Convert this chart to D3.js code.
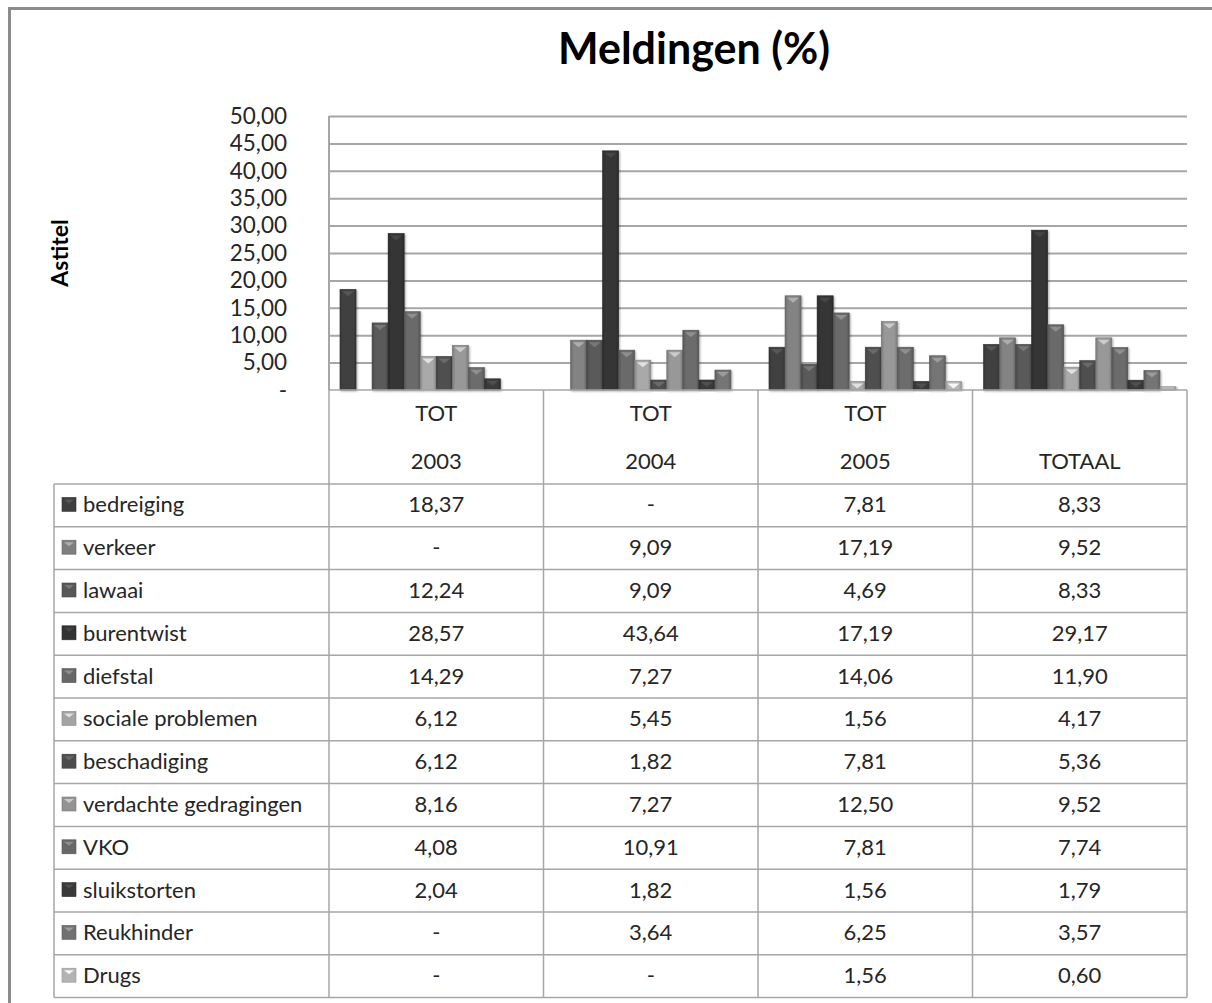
<!DOCTYPE html>
<html>
<head>
<meta charset="utf-8">
<script src="https://cdn.jsdelivr.net/npm/d3@7"></script>
<style>
  body { margin: 0; background: #fff; }
  svg { display: block; font-family: Lato, "Open Sans", sans-serif; }
</style>
</head>
<body>
<svg id="chart" width="1212" height="1003"></svg>
<script>
'use strict';

// column headers (two lines each)
const headTop = ['TOT', 'TOT', 'TOT', ''];
const headBottom = ['2003', '2004', '2005', 'TOTAAL'];
const groups = ['TOT 2003', 'TOT 2004', 'TOT 2005', 'TOTAAL'];

const seriesNames = ['bedreiging', 'verkeer', 'lawaai', 'burentwist', 'diefstal',
  'sociale problemen', 'beschadiging', 'verdachte gedragingen', 'VKO',
  'sluikstorten', 'Reukhinder', 'Drugs'];
const seriesColors = ['#3f3f3f', '#7e7e7e', '#575757', '#333333', '#676767',
  '#a3a3a3', '#4d4d4d', '#939393', '#686868', '#393939', '#717171', '#b3b3b3'];

// values per series, in the order of groups; null = "-"
const bedreiging = [18.37, null, 7.81, 8.33];
const verkeer = [null, 9.09, 17.19, 9.52];
const lawaai = [12.24, 9.09, 4.69, 8.33];
const burentwist = [28.57, 43.64, 17.19, 29.17];
const diefstal = [14.29, 7.27, 14.06, 11.90];
const socialeProblemen = [6.12, 5.45, 1.56, 4.17];
const beschadiging = [6.12, 1.82, 7.81, 5.36];
const verdachteGedragingen = [8.16, 7.27, 12.50, 9.52];
const vko = [4.08, 10.91, 7.81, 7.74];
const sluikstorten = [2.04, 1.82, 1.56, 1.79];
const reukhinder = [null, 3.64, 6.25, 3.57];
const drugs = [null, null, 1.56, 0.60];

const yTicks = [0, 5, 10, 15, 20, 25, 30, 35, 40, 45, 50];

const seriesValues = [bedreiging, verkeer, lawaai, burentwist, diefstal,
  socialeProblemen, beschadiging, verdachteGedragingen, vko, sluikstorten,
  reukhinder, drugs];

const series = seriesNames.map((name, i) => ({
  name: name, color: seriesColors[i], values: seriesValues[i],
}));

const nl = d3.formatLocale({ decimal: ',', thousands: '.', grouping: [3], currency: ['€', ''] });
const fmt = nl.format('.2f');
const cellText = (v) => (v == null ? '-' : fmt(v));

const svg = d3.select('#chart');

// layout
const plotL = 329, plotR = 1187, plotT = 116, plotB = 390;
const tableL = 54, headB = 484, rowH = 42.8;
const lineCol = '#a6a6a6';
const txtCol = '#262626';
const fs = '22px';

// outer frame of the chart
svg.append('rect')
  .attr('x', 9.5).attr('y', 8.5).attr('width', 1240).attr('height', 1040)
  .attr('fill', 'none').attr('stroke', '#8c8c8c').attr('stroke-width', 3);

// title
svg.append('text')
  .attr('x', 694).attr('y', 64)
  .attr('text-anchor', 'middle')
  .style('font-size', '43px').style('font-weight', 'bold')
  .text('Meldingen (%)');

// axis title
svg.append('text')
  .attr('transform', 'translate(68,253) rotate(-90)')
  .attr('text-anchor', 'middle')
  .style('font-size', '23px').style('font-weight', 'bold')
  .text('Astitel');

// scales
const x0 = d3.scaleBand().domain(groups).range([plotL, plotR]);
const x1 = d3.scaleBand().domain(seriesNames).range([11, x0.bandwidth() - 11]);
const y = d3.scaleLinear().domain([0, 50]).range([plotB, plotT]);

// gridlines
svg.append('g')
  .attr('transform', `translate(${plotL},0)`)
  .call(d3.axisLeft(y).tickValues(yTicks.filter((d) => d > 0)).tickSize(-(plotR - plotL)).tickFormat(''))
  .call((g) => g.select('.domain').remove())
  .call((g) => g.selectAll('line').attr('stroke', lineCol).attr('stroke-width', 2));

// y axis labels
svg.append('g')
  .attr('transform', `translate(${plotL},0)`)
  .call(d3.axisLeft(y).tickValues(yTicks).tickSize(0).tickPadding(42)
    .tickFormat((d) => (d === 0 ? '-' : fmt(d))))
  .call((g) => g.select('.domain').remove())
  .call((g) => g.selectAll('text').attr('fill', txtCol).style('font-size', '22.5px')
    .style('font-family', 'Lato, sans-serif'));

// plot left edge
svg.append('line')
  .attr('x1', plotL).attr('x2', plotL).attr('y1', plotT).attr('y2', plotB)
  .attr('stroke', lineCol).attr('stroke-width', 2);

// gradients for the bevelled bars
const defs = svg.append('defs');
series.forEach((s, i) => {
  const c = d3.color(s.color);
  const gr = defs.append('linearGradient').attr('id', `grad${i}`)
    .attr('x1', '0%').attr('x2', '100%').attr('y1', '0%').attr('y2', '0%');
  gr.append('stop').attr('offset', '0%').attr('stop-color', c.darker(0.5));
  gr.append('stop').attr('offset', '20%').attr('stop-color', c.brighter(0.1));
  gr.append('stop').attr('offset', '80%').attr('stop-color', c.brighter(0.1));
  gr.append('stop').attr('offset', '100%').attr('stop-color', c.darker(0.5));
});
defs.append('filter').attr('id', 'shadow')
  .attr('x', '-30%').attr('y', '-10%').attr('width', '160%').attr('height', '130%')
  .append('feDropShadow')
  .attr('dx', 1).attr('dy', 1).attr('stdDeviation', 1.2)
  .attr('flood-color', '#000').attr('flood-opacity', 0.35);

// bars
const barData = [];
series.forEach((s, i) => {
  s.values.forEach((v, j) => {
    if (v != null) barData.push({ s: s, i: i, group: groups[j], value: v });
  });
});

const bars = svg.append('g').selectAll('g').data(barData).join('g');

bars.append('rect')
  .attr('x', (d) => x0(d.group) + x1(d.s.name))
  .attr('y', (d) => y(d.value))
  .attr('width', x1.bandwidth())
  .attr('height', (d) => plotB - y(d.value))
  .attr('fill', (d) => `url(#grad${d.i})`)
  .attr('stroke', (d) => d3.color(d.s.color).darker(0.6))
  .attr('stroke-width', 0.6)
  .attr('filter', 'url(#shadow)');

bars.filter((d) => plotB - y(d.value) > 6).append('path')
  .attr('d', (d) => {
    const bx = x0(d.group) + x1(d.s.name);
    const w = x1.bandwidth();
    const by = y(d.value);
    return `M${bx + 2},${by + 2}L${bx + w - 2},${by + 2}L${bx + w / 2},${by + 7}Z`;
  })
  .attr('fill', (d) => d3.color(d.s.color).brighter(0.9));

// data table
const table = svg.append('g');
const colEdges = groups.map((g) => x0(g)).concat([plotR]);
const tableB = headB + rowH * series.length;

// vertical lines
colEdges.forEach((cx) => {
  table.append('line')
    .attr('x1', cx).attr('x2', cx).attr('y1', plotB).attr('y2', tableB)
    .attr('stroke', lineCol).attr('stroke-width', 1.5);
});
table.append('line')
  .attr('x1', tableL).attr('x2', tableL).attr('y1', headB).attr('y2', tableB)
  .attr('stroke', lineCol).attr('stroke-width', 1.5);
// top of header
table.append('line')
  .attr('x1', plotL).attr('x2', plotR).attr('y1', plotB).attr('y2', plotB)
  .attr('stroke', lineCol).attr('stroke-width', 1.5);
// row lines
d3.range(series.length + 1).forEach((r) => {
  table.append('line')
    .attr('x1', tableL).attr('x2', plotR)
    .attr('y1', headB + r * rowH).attr('y2', headB + r * rowH)
    .attr('stroke', lineCol).attr('stroke-width', 1.5);
});

// header text
groups.forEach((g, j) => {
  const cx = x0(g) + x0.bandwidth() / 2;
  table.append('text').attr('x', cx).attr('y', 421).attr('text-anchor', 'middle')
    .attr('fill', txtCol).style('font-size', fs).text(headTop[j]);
  table.append('text').attr('x', cx).attr('y', 469).attr('text-anchor', 'middle')
    .attr('fill', txtCol).style('font-size', fs).text(headBottom[j]);
});

// rows
series.forEach((s, i) => {
  const ry = headB + i * rowH;
  const mid = ry + rowH / 2;
  const c = d3.color(s.color);
  table.append('rect')
    .attr('x', 62).attr('y', mid - 8).attr('width', 14).attr('height', 14)
    .attr('fill', s.color).attr('stroke', c.darker(0.5)).attr('stroke-width', 0.6);
  table.append('path')
    .attr('d', `M64,${mid - 6}L74,${mid - 6}L69,${mid - 2}Z`)
    .attr('fill', c.brighter(0.9));
  table.append('text')
    .attr('x', 83).attr('y', mid + 7)
    .attr('fill', txtCol).style('font-size', fs)
    .text(s.name);
  s.values.forEach((v, j) => {
    table.append('text')
      .attr('x', x0(groups[j]) + x0.bandwidth() / 2).attr('y', mid + 7)
      .attr('text-anchor', 'middle')
      .attr('fill', txtCol).style('font-size', fs)
      .text(cellText(v));
  });
});
</script>
</body>
</html>
